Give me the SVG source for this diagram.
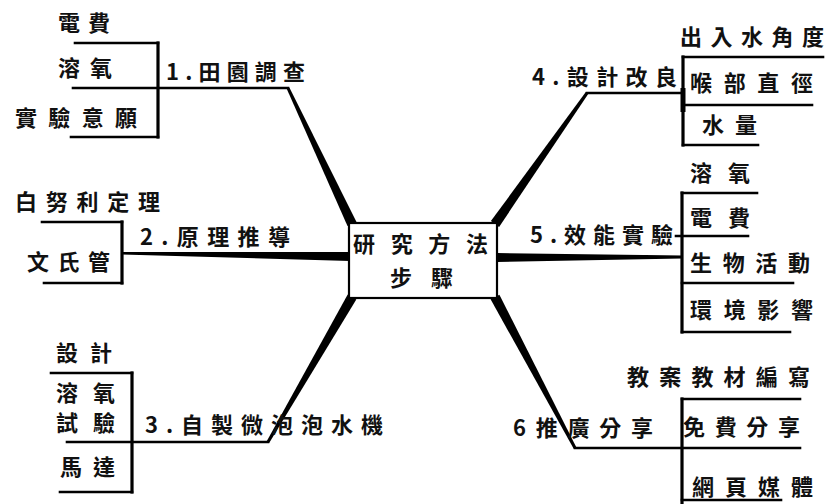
<svg xmlns="http://www.w3.org/2000/svg" width="828" height="504" viewBox="0 0 828 504">
<style>
text{font-family:"Noto Sans CJK TC","Noto Sans CJK SC",sans-serif;font-size:22px;font-weight:700;fill:#111;}
.ln{stroke:#000;stroke-width:2.6;fill:none;stroke-linecap:square;}
.br{stroke:#000;stroke-width:3.2;fill:none;stroke-linecap:square;}
.tp{fill:#000;}
</style>
<rect width="828" height="504" fill="#fff"/>
<g id="connectors">
<polygon class="tp" points="286.6,88.6 347.5,226.1 356.5,221.9 289.4,87.4"/>
<polygon class="tp" points="585.8,92.1 490.9,221.1 499.1,226.9 588.2,93.9"/>
<polygon class="tp" points="269.3,442.75 356.3,299.5 347.7,294.5 266.7,441.25"/>
<polygon class="tp" points="576.3,447.3 499.4,294.7 490.6,299.3 573.7,448.7"/>
<polygon class="tp" points="122,252 350,252 350,261 122,254.5"/>
<polygon class="tp" points="497,253 682,255.5 682,258.5 497,262"/>
<line class="br" x1="158" y1="43" x2="158" y2="137"/>
<line class="ln" x1="75" y1="43" x2="158" y2="43"/>
<line class="ln" x1="73" y1="88" x2="288" y2="88"/>
<line class="ln" x1="71" y1="137" x2="158" y2="137"/>
<line class="br" x1="683" y1="57" x2="683" y2="145"/>
<line x1="683" y1="88" x2="683" y2="112" stroke="#000" stroke-width="5"/>
<line class="ln" x1="587" y1="93" x2="683" y2="93"/>
<line class="ln" x1="683" y1="57" x2="823" y2="57"/>
<line class="ln" x1="683" y1="105" x2="812" y2="105"/>
<line class="ln" x1="683" y1="145" x2="758" y2="145"/>
<line class="br" x1="122" y1="222" x2="122" y2="283"/>
<line class="ln" x1="42" y1="222" x2="122" y2="222"/>
<line class="ln" x1="44" y1="283" x2="122" y2="283"/>
<line class="br" x1="682" y1="193" x2="682" y2="332"/>
<line class="ln" x1="682" y1="193" x2="757" y2="193"/>
<line class="ln" x1="676" y1="236" x2="748" y2="236"/>
<line class="ln" x1="682" y1="283" x2="793" y2="283"/>
<line class="ln" x1="682" y1="332" x2="790" y2="332"/>
<line class="br" x1="132" y1="373" x2="132" y2="492"/>
<line class="ln" x1="51" y1="373" x2="132" y2="373"/>
<line class="ln" x1="67" y1="442" x2="268" y2="442"/>
<line class="ln" x1="60" y1="492" x2="132" y2="492"/>
<line class="br" x1="682" y1="399" x2="682" y2="504"/>
<line class="ln" x1="575" y1="448" x2="800" y2="448"/>
<line class="ln" x1="682" y1="399" x2="800" y2="399"/>
<line class="ln" x1="682" y1="500" x2="781" y2="500"/>
</g>
<g id="center">
<rect x="349" y="223" width="148" height="75" fill="#fff" stroke="#000" stroke-width="2.2"/>
<text x="353" y="252" font-size="25" textLength="135" lengthAdjust="spacing">研究方法</text>
<text x="390" y="286" font-size="25" textLength="63" lengthAdjust="spacing">步驟</text>
</g>
<g id="node1">
<text x="166" y="80" textLength="139" lengthAdjust="spacing">1.田園調查</text>
<text x="58" y="31" textLength="52" lengthAdjust="spacing">電費</text>
<text x="58" y="76" textLength="54" lengthAdjust="spacing">溶氧</text>
<text x="15" y="126" textLength="122" lengthAdjust="spacing">實驗意願</text>
</g>
<g id="node2">
<text x="140" y="245" textLength="150" lengthAdjust="spacing">2.原理推導</text>
<text x="15" y="210" textLength="145" lengthAdjust="spacing">白努利定理</text>
<text x="27" y="270" textLength="83" lengthAdjust="spacing">文氏管</text>
</g>
<g id="node3">
<text x="145" y="433" textLength="238" lengthAdjust="spacing">3.自製微泡泡水機</text>
<text x="56" y="361" textLength="56" lengthAdjust="spacing">設計</text>
<text x="56" y="401" font-size="20" textLength="59" lengthAdjust="spacing">溶氧</text>
<text x="56" y="431" font-size="20" textLength="59" lengthAdjust="spacing">試驗</text>
<text x="60" y="475" textLength="55" lengthAdjust="spacing">馬達</text>
</g>
<g id="node4">
<text x="532" y="85" textLength="145" lengthAdjust="spacing">4.設計改良</text>
<text x="680" y="45" textLength="144" lengthAdjust="spacing">出入水角度</text>
<text x="690" y="91" textLength="123" lengthAdjust="spacing">喉部直徑</text>
<text x="702" y="133" textLength="55" lengthAdjust="spacing">水量</text>
</g>
<g id="node5">
<text x="530" y="243" textLength="143" lengthAdjust="spacing">5.效能實驗</text>
<text x="690" y="181" textLength="60" lengthAdjust="spacing">溶氧</text>
<text x="690" y="226" textLength="60" lengthAdjust="spacing">電費</text>
<text x="690" y="271" textLength="120" lengthAdjust="spacing">生物活動</text>
<text x="690" y="318" textLength="123" lengthAdjust="spacing">環境影響</text>
</g>
<g id="node6">
<text x="513" y="436" textLength="140" lengthAdjust="spacing">6推廣分享</text>
<text x="627" y="385" textLength="183" lengthAdjust="spacing">教案教材編寫</text>
<text x="683" y="435" textLength="117" lengthAdjust="spacing">免費分享</text>
<text x="692" y="495" textLength="121" lengthAdjust="spacing">網頁媒體</text>
</g>
</svg>
